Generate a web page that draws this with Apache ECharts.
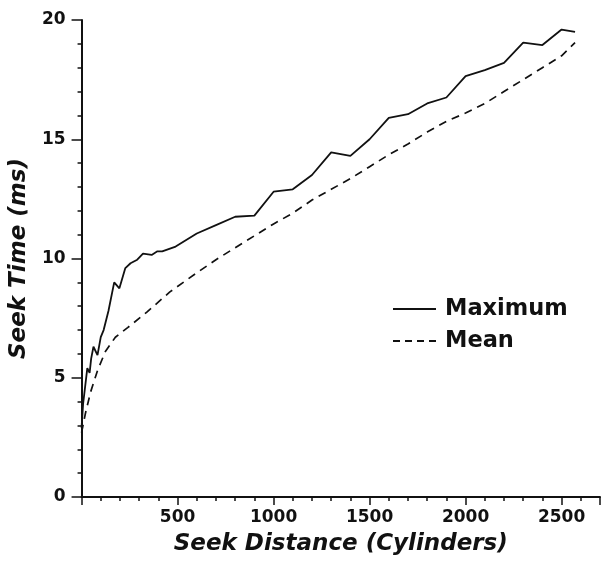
<!DOCTYPE html>
<html>
<head>
<meta charset="utf-8">
<script src="https://cdn.jsdelivr.net/npm/echarts@6/dist/echarts.min.js"></script>
<style>
html,body{margin:0;padding:0;background:#fff;}
#chart{width:603px;height:562px;}
</style>
</head>
<body>
<div id="chart"></div>
<script>
// Seek distance (cylinders) and seek time (ms)
const maxDist = [0, 8, 30, 42, 50, 62, 83, 100, 115, 140, 170, 197, 228, 255, 290, 320, 365, 395, 420, 490, 600, 700, 800, 900, 1000, 1100, 1200, 1300, 1400, 1500, 1600, 1700, 1800, 1900, 2000, 2100, 2200, 2300, 2400, 2500, 2570];
const maxTime = [2.9, 3.9, 5.4, 5.2, 5.8, 6.3, 5.95, 6.7, 7.0, 7.8, 9.0, 8.75, 9.6, 9.8, 9.95, 10.2, 10.15, 10.3, 10.3, 10.5, 11.05, 11.4, 11.75, 11.8, 12.8, 12.9, 13.5, 14.45, 14.3, 15.0, 15.9, 16.05, 16.5, 16.75, 17.65, 17.9, 18.2, 19.05, 18.95, 19.6, 19.5];

const meanDist = [0, 20, 47, 83, 124, 176, 240, 340, 460, 600, 700, 800, 900, 1000, 1100, 1200, 1300, 1400, 1500, 1600, 1700, 1800, 1900, 2000, 2100, 2200, 2300, 2400, 2500, 2570];
const meanTime = [2.7, 3.5, 4.4, 5.3, 6.1, 6.7, 7.1, 7.75, 8.6, 9.4, 9.95, 10.45, 10.95, 11.45, 11.9, 12.45, 12.9, 13.35, 13.85, 14.35, 14.8, 15.3, 15.75, 16.1, 16.5, 17.0, 17.5, 18.0, 18.5, 19.05];

const seriesNames = ['Maximum', 'Mean'];
const xTitle = 'Seek Distance (Cylinders)';
const yTitle = 'Seek Time (ms)';

const zip = (a, b) => a.map((v, i) => [v, b[i]]);
const FONT = '"DejaVu Sans", "Liberation Sans", Arial, sans-serif';
const INK = '#111';

const solidIcon = 'path://M0,0H43V2H0Z';
const dashIcon = 'path://M0,0H7V2H0Z M12,0H19V2H12Z M24,0H31V2H24Z M36,0H43V2H36Z';

const chart = echarts.init(document.getElementById('chart'), null, {renderer: 'canvas'});
chart.setOption({
  animation: false,
  backgroundColor: '#fff',
  grid: {left: 81, right: 3, top: 20, bottom: 65, containLabel: false},
  xAxis: {
    type: 'value', min: 0, max: 2700, interval: 500,
    name: xTitle, nameLocation: 'middle', nameGap: 36,
    nameTextStyle: {fontFamily: FONT, fontSize: 23, fontStyle: 'italic', fontWeight: 'bold', color: INK},
    axisLine: {show: true, lineStyle: {color: INK, width: 2}},
    axisTick: {show: true, inside: false, length: 8, lineStyle: {color: INK, width: 1.5}},
    minorTick: {show: true, splitNumber: 5, length: 4, lineStyle: {color: INK, width: 1.5}},
    axisLabel: {fontFamily: FONT, fontSize: 17, fontWeight: 'bold', color: INK, margin: 12,
      formatter: v => (v > 0 && v % 500 === 0) ? String(v) : ''},
    splitLine: {show: false}, minorSplitLine: {show: false}
  },
  yAxis: {
    type: 'value', min: 0, max: 20, interval: 5,
    name: yTitle, nameLocation: 'middle', nameGap: 46, nameRotate: 90,
    nameTextStyle: {fontFamily: FONT, fontSize: 23, fontStyle: 'italic', fontWeight: 'bold', color: INK},
    axisLine: {show: true, lineStyle: {color: INK, width: 2}},
    axisTick: {show: true, inside: false, length: 10, lineStyle: {color: INK, width: 1.5}},
    minorTick: {show: true, splitNumber: 5, length: 4, lineStyle: {color: INK, width: 1.5}},
    axisLabel: {fontFamily: FONT, fontSize: 17, fontWeight: 'bold', color: INK, margin: 16},
    splitLine: {show: false}, minorSplitLine: {show: false}
  },
  legend: {
    orient: 'vertical', left: 388, top: 292, itemGap: 8,
    itemWidth: 43, itemHeight: 2,
    textStyle: {fontFamily: FONT, fontSize: 22.5, fontWeight: 'bold', color: INK, lineHeight: 24, padding: [0, 0, 0, 4]},
    data: [
      {name: seriesNames[0], icon: solidIcon},
      {name: seriesNames[1], icon: dashIcon}
    ]
  },
  series: [
    {name: seriesNames[0], type: 'line', data: zip(maxDist, maxTime), symbol: 'none',
     lineStyle: {color: INK, width: 1.8, type: 'solid'}, itemStyle: {color: INK}},
    {name: seriesNames[1], type: 'line', data: zip(meanDist, meanTime), symbol: 'none',
     lineStyle: {color: INK, width: 1.7, type: [8, 6]}, itemStyle: {color: INK}}
  ]
});
</script>
</body>
</html>
